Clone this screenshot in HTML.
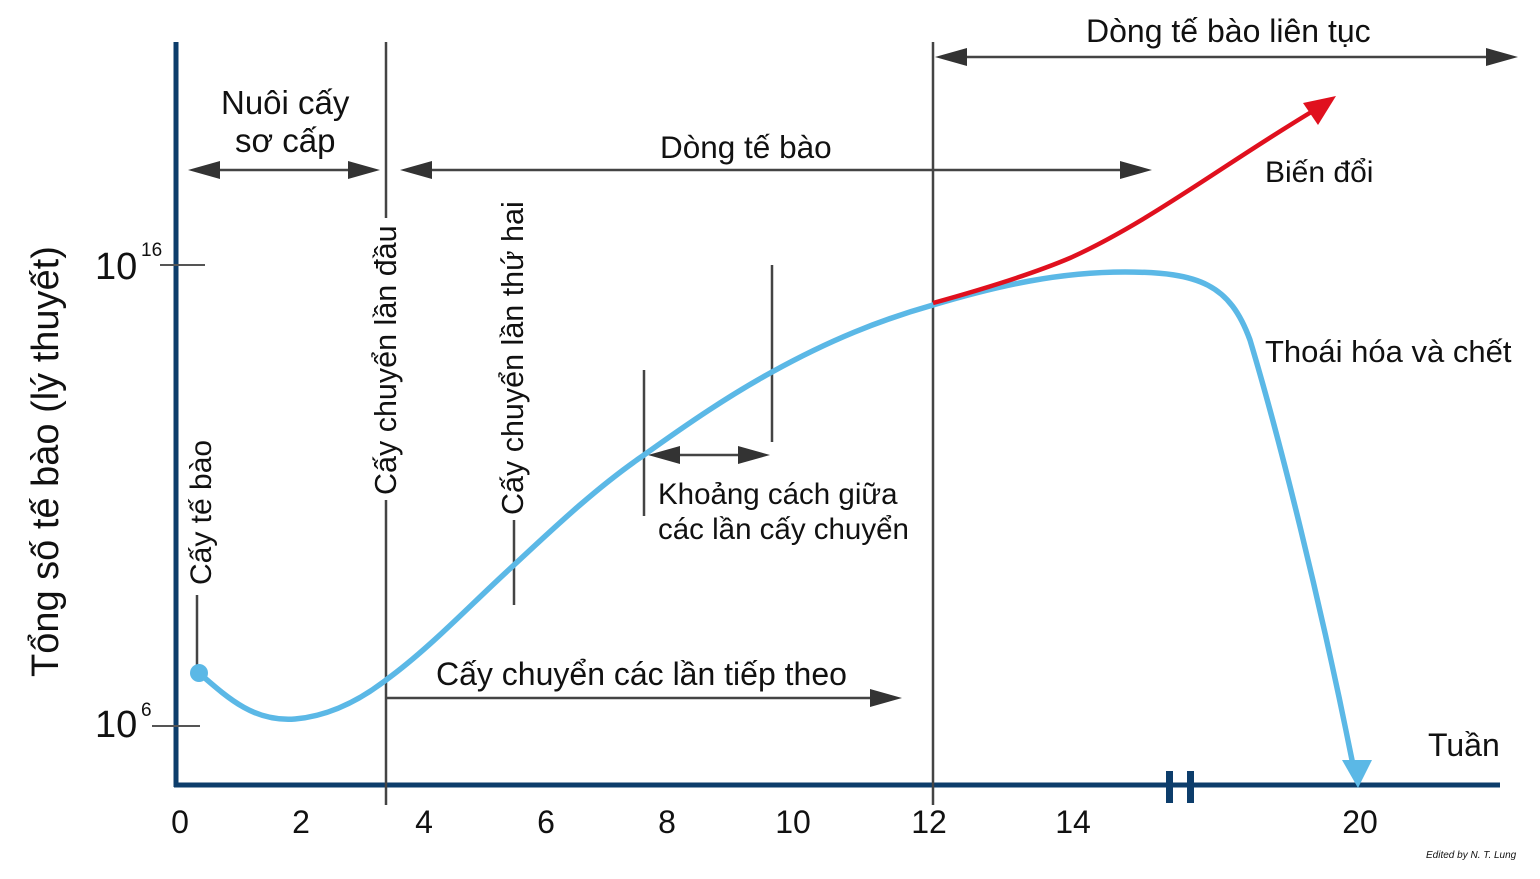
<!DOCTYPE html>
<html><head><meta charset="utf-8"><style>
html,body{margin:0;padding:0;background:#fff;}
svg text{font-family:"Liberation Sans","DejaVu Sans",sans-serif;fill:#111;}
</style></head><body>
<svg width="1540" height="874" viewBox="0 0 1540 874" xmlns="http://www.w3.org/2000/svg">
<!-- axes -->
<line x1="176" y1="42" x2="176" y2="787" stroke="#0d3d6b" stroke-width="5"/>
<line x1="174" y1="785" x2="1500" y2="785" stroke="#0d3d6b" stroke-width="5"/>
<rect x="1166" y="771" width="7" height="32" fill="#0d3d6b"/>
<rect x="1187" y="771" width="7" height="32" fill="#0d3d6b"/>
<!-- ticks -->
<line x1="160" y1="265" x2="205" y2="265" stroke="#555" stroke-width="2"/>
<line x1="152" y1="726" x2="200" y2="726" stroke="#555" stroke-width="2"/>
<!-- vertical lines -->
<g stroke="#444" stroke-width="2.5">
<line x1="386" y1="42" x2="386" y2="218"/>
<line x1="386" y1="500" x2="386" y2="805"/>
<line x1="933" y1="42" x2="933" y2="805"/>
<line x1="197" y1="595" x2="197" y2="672"/>
<line x1="514" y1="520" x2="514" y2="605"/>
<line x1="644" y1="370" x2="644" y2="516"/>
<line x1="772" y1="265" x2="772" y2="442"/>
</g>
<!-- horizontal arrows -->
<g stroke="#444" stroke-width="2.5">
<line x1="205" y1="170" x2="365" y2="170"/>
<line x1="418" y1="170" x2="1130" y2="170"/>
<line x1="955" y1="57" x2="1498" y2="57"/>
<line x1="665" y1="455" x2="752" y2="455"/>
<line x1="386" y1="698" x2="880" y2="698"/>
</g>
<g fill="#333">
<polygon points="188,170 220,161 220,179"/>
<polygon points="380,170 348,161 348,179"/>
<polygon points="400,170 432,161 432,179"/>
<polygon points="1152,170 1120,161 1120,179"/>
<polygon points="935,57 967,48 967,66"/>
<polygon points="1518,57 1486,48 1486,66"/>
<polygon points="648,455 680,446 680,464"/>
<polygon points="770,455 738,446 738,464"/>
<polygon points="902,698 870,689 870,707"/>
</g>
<!-- blue curve -->
<path d="M199,673 C230,700 255,722 295,719 C330,716 360,700 386,680 C430,648 470,605 514,565 C560,522 600,485 644,455 C690,422 730,395 772,372 C830,340 880,320 933,305 C1000,285 1060,272 1125,272 C1200,272 1230,285 1250,340 C1280,440 1320,600 1352,760" fill="none" stroke="#5bb8e6" stroke-width="5.5" stroke-linecap="round"/>
<circle cx="199" cy="673" r="9" fill="#5bb8e6"/>
<polygon points="1342,760 1372,760 1358,788" fill="#5bb8e6"/>
<!-- red curve -->
<path d="M933,303 C980,290 1030,275 1070,258 C1150,222 1230,160 1318,108" fill="none" stroke="#e0101e" stroke-width="4.5"/>
<polygon points="1336,96 1303,103 1318,125" fill="#e0101e"/>
<!-- texts -->
<text x="221" y="114" font-size="33">Nuôi cấy</text>
<text x="235" y="152" font-size="33">sơ cấp</text>
<text x="660" y="158" font-size="31.5">Dòng tế bào</text>
<text x="1086" y="42" font-size="32">Dòng tế bào liên tục</text>
<text x="1265" y="182" font-size="30">Biến đổi</text>
<text x="1265" y="362" font-size="31">Thoái hóa và chết</text>
<text x="658" y="504" font-size="29.5">Khoảng cách giữa</text>
<text x="658" y="539" font-size="29.5">các lần cấy chuyển</text>
<text x="436" y="685" font-size="32">Cấy chuyển các lần tiếp theo</text>
<text x="1428" y="756" font-size="32">Tuần</text>
<text x="95" y="279" font-size="38">10</text><text x="141" y="256" font-size="19">16</text>
<text x="95" y="737" font-size="38">10</text><text x="141" y="716" font-size="19">6</text>
<text transform="translate(58,677) rotate(-90)" font-size="38">Tổng số tế bào (lý thuyết)</text>
<text transform="translate(211,585) rotate(-90)" font-size="30">Cấy tế bào</text>
<text transform="translate(396,495) rotate(-90)" font-size="30.5">Cấy chuyển lần đầu</text>
<text transform="translate(523,515) rotate(-90)" font-size="30.5">Cấy chuyển lần thứ hai</text>
<g font-size="32" text-anchor="middle">
<text x="180" y="833">0</text><text x="301" y="833">2</text><text x="424" y="833">4</text>
<text x="546" y="833">6</text><text x="667" y="833">8</text><text x="793" y="833">10</text>
<text x="929" y="833">12</text><text x="1073" y="833">14</text><text x="1360" y="833">20</text>
</g>
<text x="1426" y="858" font-size="10" font-style="italic" fill="#444">Edited by N. T. Lung</text>
</svg>
</body></html>
